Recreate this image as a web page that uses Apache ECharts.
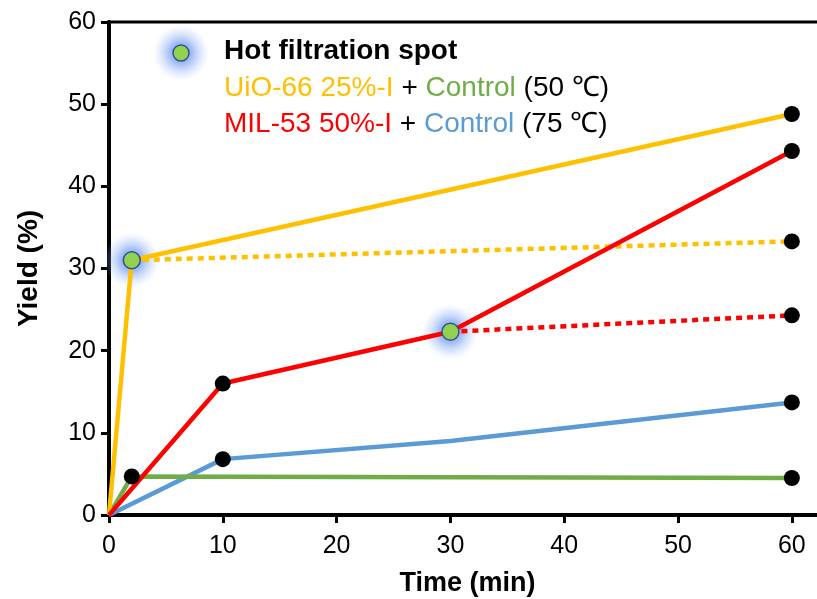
<!DOCTYPE html>
<html>
<head>
<meta charset="utf-8">
<script src="https://cdn.jsdelivr.net/npm/echarts@6/dist/echarts.min.js"></script>
<style>
  html, body { margin: 0; padding: 0; background: #fff; }
  #chart { width: 817px; height: 599px; }
</style>
</head>
<body>
<div id="chart"></div>
<script>
// Reaction yield over time, with hot-filtration experiments
const xTicks = [0, 10, 20, 30, 40, 50, 60];
const yTicks = [0, 10, 20, 30, 40, 50, 60];

// UiO-66 25%-I at 50 °C
const uioTime = [0, 2, 60];
const uioYield = [0, 31, 48.8];
// after hot filtration at 2 min
const uioHotTime = [2, 60];
const uioHotYield = [31, 33.3];
// control at 50 °C
const uioCtrlTime = [0, 2, 60];
const uioCtrlYield = [0, 4.7, 4.5];

// MIL-53 50%-I at 75 °C
const milTime = [0, 10, 30, 60];
const milYield = [0, 16, 22.3, 44.3];
// after hot filtration at 30 min
const milHotTime = [30, 60];
const milHotYield = [22.3, 24.3];
// control at 75 °C
const milCtrlTime = [0, 10, 30, 60];
const milCtrlYield = [0, 6.8, 9.0, 13.7];

const ORANGE = '#FFC000', GREEN = '#70AD47', RED = '#FF0000', BLUE = '#5B9BD5';
const SPOT = '#92D050', SPOT_EDGE = '#2F528F';

const pairs = (xs, ys) => xs.map((x, i) => [x, ys[i]]);

// measured points drawn as black dots
const blackDots = [
  [uioTime[2], uioYield[2]],
  [uioHotTime[1], uioHotYield[1]],
  [uioCtrlTime[1], uioCtrlYield[1]],
  [uioCtrlTime[2], uioCtrlYield[2]],
  [milTime[1], milYield[1]],
  [milTime[3], milYield[3]],
  [milHotTime[1], milHotYield[1]],
  [milCtrlTime[1], milCtrlYield[1]],
  [milCtrlTime[3], milCtrlYield[3]]
];
// moments where the catalyst was filtered off
const hotSpots = [
  [uioHotTime[0], uioHotYield[0]],
  [milHotTime[0], milHotYield[0]]
];

// soft blue halo behind each filtration spot
const halo = {
  type: 'radial', x: 0.5, y: 0.5, r: 0.5,
  colorStops: [
    { offset: 0, color: 'rgba(100,140,240,0.9)' },
    { offset: 0.4, color: 'rgba(115,155,242,0.65)' },
    { offset: 0.7, color: 'rgba(145,180,246,0.32)' },
    { offset: 1, color: 'rgba(175,200,250,0)' }
  ]
};

function line(name, xs, ys, color, dotted, z) {
  return {
    name, type: 'line', data: pairs(xs, ys), showSymbol: false, symbol: 'none',
    lineStyle: { color, width: 4.5, type: dotted ? [6, 5] : 'solid', cap: 'butt' },
    z, silent: true, animation: false
  };
}

const chart = echarts.init(document.getElementById('chart'), null, { renderer: 'canvas' });
const FONT = '"Liberation Sans", Arial, sans-serif';

chart.setOption({
  backgroundColor: '#fff',
  animation: false,
  grid: {
    left: 109, width: 717, top: 22, height: 493,
    outerBoundsMode: 'none', containLabel: false,
    show: true, borderColor: '#000', borderWidth: 3, backgroundColor: 'transparent'
  },
  xAxis: {
    type: 'value', min: 0, max: 63, interval: 10,
    name: 'Time (min)', nameLocation: 'middle', nameGap: 55,
    nameTextStyle: { fontFamily: FONT, fontWeight: 'bold', fontSize: 27, color: '#000' },
    axisLine: { show: true, onZero: false, lineStyle: { color: '#000', width: 4 } },
    axisTick: { show: true, customValues: xTicks, length: 8, lineStyle: { color: '#000', width: 3 } },
    axisLabel: { customValues: xTicks, margin: 19, fontFamily: FONT, fontSize: 25, color: '#000' },
    splitLine: { show: false }
  },
  yAxis: {
    type: 'value', min: 0, max: 60, interval: 10,
    name: 'Yield (%)', nameLocation: 'middle', nameGap: 66, nameRotate: 90,
    nameTextStyle: { fontFamily: FONT, fontWeight: 'bold', fontSize: 28, color: '#000' },
    axisLine: { show: true, lineStyle: { color: '#000', width: 4 } },
    axisTick: { show: true, customValues: yTicks, length: 8, lineStyle: { color: '#000', width: 3 } },
    axisLabel: { customValues: yTicks, margin: 13, fontFamily: FONT, fontSize: 25, color: '#000' },
    splitLine: { show: false }
  },
  series: [
    line('MIL-53 control', milCtrlTime, milCtrlYield, BLUE, false, 2),
    line('UiO-66 control', uioCtrlTime, uioCtrlYield, GREEN, false, 3),
    line('UiO-66 25%-I', uioTime, uioYield, ORANGE, false, 4),
    line('UiO-66 filtered', uioHotTime, uioHotYield, ORANGE, true, 4),
    line('MIL-53 filtered', milHotTime, milHotYield, RED, true, 5),
    line('MIL-53 50%-I', milTime, milYield, RED, false, 5),
    {
      type: 'scatter', data: blackDots, symbol: 'circle', symbolSize: 16,
      itemStyle: { color: '#000', opacity: 1 }, z: 10, silent: true
    },
    {
      type: 'scatter', data: hotSpots, symbol: 'circle', symbolSize: 56,
      itemStyle: { color: halo, opacity: 1 }, z: 1, silent: true
    },
    {
      type: 'scatter', data: hotSpots, symbol: 'circle', symbolSize: 17,
      itemStyle: { color: SPOT, borderColor: SPOT_EDGE, borderWidth: 1.5, opacity: 1 },
      z: 11, silent: true
    }
  ],
  graphic: [
    {
      type: 'circle', shape: { cx: 181, cy: 53, r: 28 }, z: 19,
      style: { fill: halo }
    },
    {
      type: 'circle', shape: { cx: 181, cy: 53, r: 8 }, z: 20,
      style: { fill: SPOT, stroke: SPOT_EDGE, lineWidth: 1.5 }
    },
    {
      type: 'text', left: 224, top: 37, z: 20,
      style: { text: 'Hot filtration spot', font: 'bold 28px ' + FONT, fill: '#000' }
    },
    {
      type: 'text', left: 224, top: 74, z: 20,
      style: {
        text: '{o|UiO-66 25%-I}{k| + }{g|Control}{k| (50 ℃)}',
        font: '28px ' + FONT,
        rich: {
          o: { fill: ORANGE, font: '28px ' + FONT },
          g: { fill: GREEN, font: '28px ' + FONT },
          k: { fill: '#000', font: '28px ' + FONT }
        }
      }
    },
    {
      type: 'text', left: 224, top: 110, z: 20,
      style: {
        text: '{r|MIL-53 50%-I}{k| + }{b|Control}{k| (75 ℃)}',
        font: '28px ' + FONT,
        rich: {
          r: { fill: RED, font: '28px ' + FONT },
          b: { fill: BLUE, font: '28px ' + FONT },
          k: { fill: '#000', font: '28px ' + FONT }
        }
      }
    }
  ]
});
</script>
</body>
</html>
